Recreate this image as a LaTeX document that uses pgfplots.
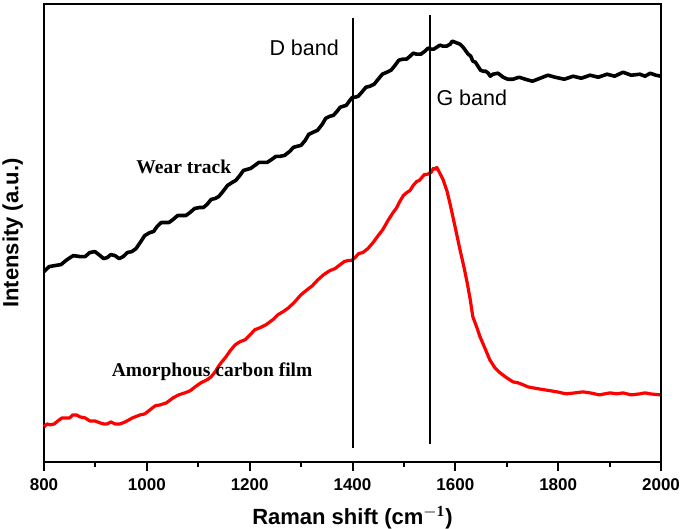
\documentclass[border=0pt]{standalone}
\usepackage{fontspec}
\setmainfont{Liberation Serif}
\setsansfont{Liberation Sans}
\usepackage{pgfplots}
\pgfplotsset{compat=1.18}
\begin{document}
\begin{tikzpicture}
\begin{axis}[
  scale only axis,
  width=308.5pt, height=228.5pt,
  xmin=800, xmax=2000, ymin=0, ymax=457,
  axis line style={line width=1.2pt},
  xtick={800,1000,...,2000},
  minor x tick num=1,
  ytick=\empty,
  xtick pos=bottom,
  tick align=outside,
  major tick length=4.5pt, minor tick length=2.3pt,
  every tick/.style={black, line width=1pt},
  /pgf/number format/assume math mode=true,
  /pgf/number format/1000 sep={},
  xticklabel style={font=\sffamily\bfseries\fontsize{8.5}{10}\selectfont, yshift=-0.5pt},
  xlabel={Raman shift (cm$^{\mathbf{-1}}$)},
  ylabel={Intensity (a.u.)},
  label style={font=\sffamily\bfseries\fontsize{11}{13}\selectfont},
  xlabel style={yshift=-1pt},
  ylabel style={yshift=2.5pt},
  clip=false,
]
\addplot[black, line width=1.8pt, line join=round] coordinates {
(800,190)(810,195)(821,196)(833,197)(845,202)(857,206)(870,205)(880,205)(889,209)(899,210)
(909,206)(916,203)(923,204)(930,207)(938,206)(946,203)(954,205)(962,209)(971,210)(979,213)
(987,219)(996,226)(1006,229)(1013,230)(1020,235)(1028,239)(1035,239)(1043,239)(1051,242)(1060,246)
(1068,246)(1076,246)(1084,249)(1093,253)(1103,254)(1110,254)(1117,257)(1125,262)(1133,263)(1140,265)
(1148,270)(1157,276)(1166,279)(1173,281)(1181,286)(1188,291)(1195,292)(1202,293)(1210,296)(1218,299)
(1226,299)(1234,299)(1243,302)(1251,305)(1259,305)(1268,306)(1278,310)(1285,314)(1292,315)(1300,316)
(1308,321)(1315,327)(1323,329)(1332,331)(1341,337)(1348,343)(1356,345)(1363,346)(1370,350)(1376,354)
(1382,355)(1388,356)(1395,361)(1400,364)(1405,364)(1411,365)(1418,369)(1426,374)(1434,375)(1442,377)
(1450,382)(1458,387)(1467,389)(1475,391)(1483,396)(1490,401)(1498,402)(1505,402)(1512,405)(1518,408)
(1525,407)(1533,407)(1541,410)(1547,413)(1553,412)(1558,412)(1564,414)(1570,416)(1576,415)(1583,415)
(1590,417)(1594,420)(1599,419)(1604,418)(1609,417)(1615,414)(1625,407)(1630,405)(1634,400)(1639,399)
(1644,395)(1649,391)(1654,390)(1659,390)(1664,388)(1668,385)(1673,387)(1683,388)(1693,384)(1702,382)
(1712,382)(1724,384)(1736,382)(1750,380)(1765,383)(1780,386)(1794,384)(1812,382)(1829,385)(1845,383)
(1862,386)(1878,384)(1895,387)(1910,385)(1926,389)(1942,386)(1959,387)(1969,385)(1979,388)(1990,386)
(2000,385)
};
\addplot[red, line width=1.6pt, line join=round] coordinates {
(800,35)(806,38)(812,37)(820,38)(827,41)(835,44)(843,44)(850,44)(856,47)(863,47)
(870,45)(880,44)(889,41)(899,41)(909,39)(916,38)(923,38)(930,40)(938,38)(948,38)
(958,40)(972,44)(987,47)(996,48)(1006,52)(1016,56)(1026,57)(1038,59)(1051,64)(1062,67)
(1074,69)(1084,71)(1094,75)(1105,79)(1117,82)(1125,85)(1133,90)(1140,96)(1146,100)(1154,105)
(1162,111)(1172,117)(1181,120)(1191,122)(1201,127)(1210,132)(1220,134)(1232,137)(1245,142)(1255,147)
(1265,150)(1276,154)(1288,160)(1300,167)(1312,172)(1322,176)(1333,182)(1344,187)(1356,191)(1366,193)
(1376,197)(1384,200)(1391,201)(1398,201)(1405,204)(1412,208)(1420,209)(1430,213)(1440,219)(1450,226)
(1459,232)(1469,241)(1479,249)(1485,253)(1492,260)(1499,266)(1506,269)(1512,271)(1518,276)(1525,280)
(1530,281)(1535,284)(1540,287)(1545,287)(1553,289)(1557,293)(1560,292)(1564,294)(1568,290)(1576,282)
(1584,270)(1590,257)(1599,236)(1609,212)(1617,194)(1623,179)(1629,162)(1634,145)(1642,134)(1648,125)
(1658,113)(1667,102)(1677,94)(1687,89)(1700,84)(1712,80)(1722,79)(1732,77)(1741,75)(1751,74)
(1762,73)(1774,72)(1786,71)(1798,70)(1815,68)(1833,69)(1848,70)(1862,69)(1880,67)(1901,69)
(1914,68)(1926,69)(1942,67)(1959,68)(1969,69)(1979,68)(1998,67)
};
\addplot[black, line width=1pt] coordinates {(1400,14)(1400,443)};
\addplot[black, line width=1pt] coordinates {(1550,18)(1550,446)};
\node[font=\sffamily\fontsize{10.75}{12}\selectfont] at (axis cs:1306,413) {D band};
\node[font=\sffamily\fontsize{10.75}{12}\selectfont] at (axis cs:1632,363) {G band};
\node[font=\rmfamily\bfseries\fontsize{9.75}{11}\selectfont] at (axis cs:1072,295) {Wear track};
\node[font=\rmfamily\bfseries\fontsize{9.75}{11}\selectfont] at (axis cs:1127,90) {Amorphous carbon film};
\end{axis}
\pgfresetboundingbox
\path[use as bounding box] (-22pt,-33.5pt) rectangle (320.5pt,231pt);
\end{tikzpicture}
\end{document}
